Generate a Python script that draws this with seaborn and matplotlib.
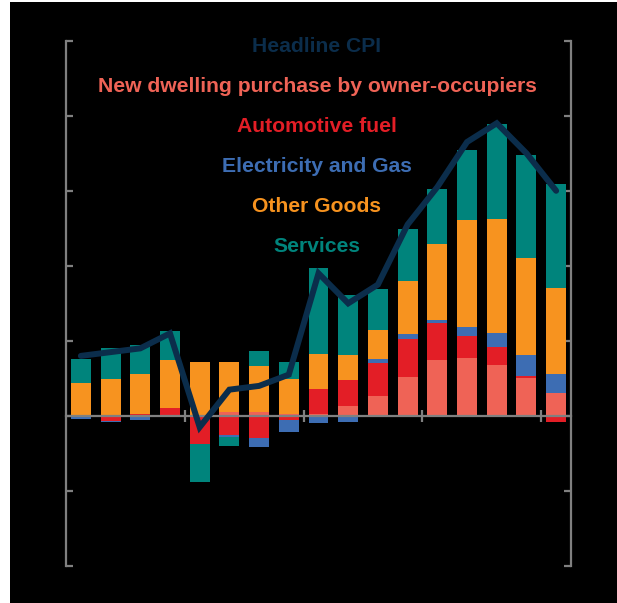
"""CPI contributions chart: stacked components with headline CPI line."""
import matplotlib
matplotlib.use("Agg")
import matplotlib.pyplot as plt
import numpy as np
import pandas as pd
import seaborn as sns

sns.set_theme(style="dark")
plt.rcParams["font.family"] = ["Liberation Sans", "DejaVu Sans"]

# data (ppt contributions, year-ended)
quarters = ["Jun-19", "Sep-19", "Dec-19", "Mar-20", "Jun-20", "Sep-20", "Dec-20", "Mar-21",
            "Jun-21", "Sep-21", "Dec-21", "Mar-22", "Jun-22", "Sep-22", "Dec-22", "Mar-23", "Jun-23"]
dwelling = [0, 0, 0, 0, 0, 0.1, 0.1, 0.05, 0.04, 0.26, 0.53, 1.03, 1.48, 1.55, 1.37, 1.01, 0.62]
fuel = [0, -0.13, 0.06, 0.2, -0.75, -0.5, -0.6, -0.12, 0.67, 0.69, 0.88, 1.02, 0.99, 0.57, 0.46, 0.05, -0.15]
elec_gas = [-0.08, -0.03, -0.12, 0, 0, -0.05, -0.24, -0.31, -0.18, -0.15, 0.11, 0.12, 0.08, 0.24, 0.39, 0.56, 0.51]
other_goods = [0.88, 0.98, 1.06, 1.28, 1.43, 1.33, 1.23, 0.93, 0.95, 0.67, 0.78, 1.42, 2.03, 2.85, 3.02, 2.60, 2.27]
services = [0.63, 0.82, 0.78, 0.77, -1.02, -0.24, 0.39, 0.47, 2.28, 1.60, 1.07, 1.38, 1.46, 1.89, 2.53, 2.74, 2.78]
headline = [1.6, 1.7, 1.8, 2.2, -0.3, 0.7, 0.8, 1.1, 3.8, 3.0, 3.5, 5.1, 6.1, 7.3, 7.8, 7.0, 6.0]

components = {
    "New dwelling purchase by owner-occupiers": (dwelling, "#EF6356"),
    "Automotive fuel": (fuel, "#E31E26"),
    "Electricity and Gas": (elec_gas, "#3D6DB3"),
    "Other Goods": (other_goods, "#F7931F"),
    "Services": (services, "#00847C"),
}
HEADLINE_COLOR = "#0B2D4B"
GREY = "#808080"

W, H = 617, 603
fig = plt.figure(figsize=(W / 100, H / 100), dpi=100, facecolor="black")
# white margin on the left and top like the source screenshot
fig.patches.append(plt.Rectangle((0, 0), 10 / W, 1, transform=fig.transFigure,
                                 facecolor="white", edgecolor="none", zorder=0))
fig.patches.append(plt.Rectangle((0, 1 - 2 / H), 1, 2 / H, transform=fig.transFigure,
                                 facecolor="white", edgecolor="none", zorder=0))

ax = fig.add_axes([66 / W, 1 - 566 / H, (571 - 66) / W, (566 - 40.7) / H])
ax.set_facecolor("black")

x = np.arange(len(quarters))
pos_base = np.zeros(len(x))
neg_base = np.zeros(len(x))
for name, (vals, color) in components.items():
    v = np.array(vals, dtype=float)
    pos = np.clip(v, 0, None)
    neg = np.clip(v, None, 0)
    ax.bar(x, pos, bottom=pos_base, width=0.67, color=color, linewidth=0, zorder=1)
    ax.bar(x, neg, bottom=neg_base, width=0.67, color=color, linewidth=0, zorder=1)
    pos_base += pos
    neg_base += neg

df = pd.DataFrame({"x": x, "headline": headline})
sns.lineplot(data=df, x="x", y="headline", color=HEADLINE_COLOR, linewidth=4.3,
             ax=ax, zorder=6, solid_capstyle="round", solid_joinstyle="miter")

ax.set_xlim(-0.5, len(x) - 0.5)
ax.set_ylim(-4, 10)
ax.set_yticks(np.arange(-4, 11, 2))
ax.set_xticks([3.5, 7.5, 11.5, 15.5])
ax.set_xlabel("")
ax.set_ylabel("")
ax.grid(False)

for side in ["left", "right", "bottom"]:
    ax.spines[side].set_visible(True)
    ax.spines[side].set_color(GREY)
    ax.spines[side].set_linewidth(1.6)
ax.spines["top"].set_visible(False)
ax.spines["bottom"].set_position(("data", 0))
ax.spines["bottom"].set_zorder(5)

ax.tick_params(axis="y", which="both", left=True, right=True, direction="in",
               length=5, width=1.6, color=GREY, labelleft=False, labelright=False)
ax.tick_params(axis="x", bottom=True, direction="inout", length=9, width=1.6,
               color=GREY, labelbottom=False)

# legend as stacked coloured text
labels = [("Headline CPI", HEADLINE_COLOR)] + [(n, c) for n, (_, c) in components.items()]
label_y = [46, 87, 127, 167, 207, 247]
for (txt, col), yp in zip(labels, label_y):
    fig.text(317 / W, 1 - yp / H, txt, color=col, fontsize=15.2, fontweight="bold",
             ha="center", va="center")

fig.savefig("out.png", dpi=100, facecolor=fig.get_facecolor())
plt.close(fig)
